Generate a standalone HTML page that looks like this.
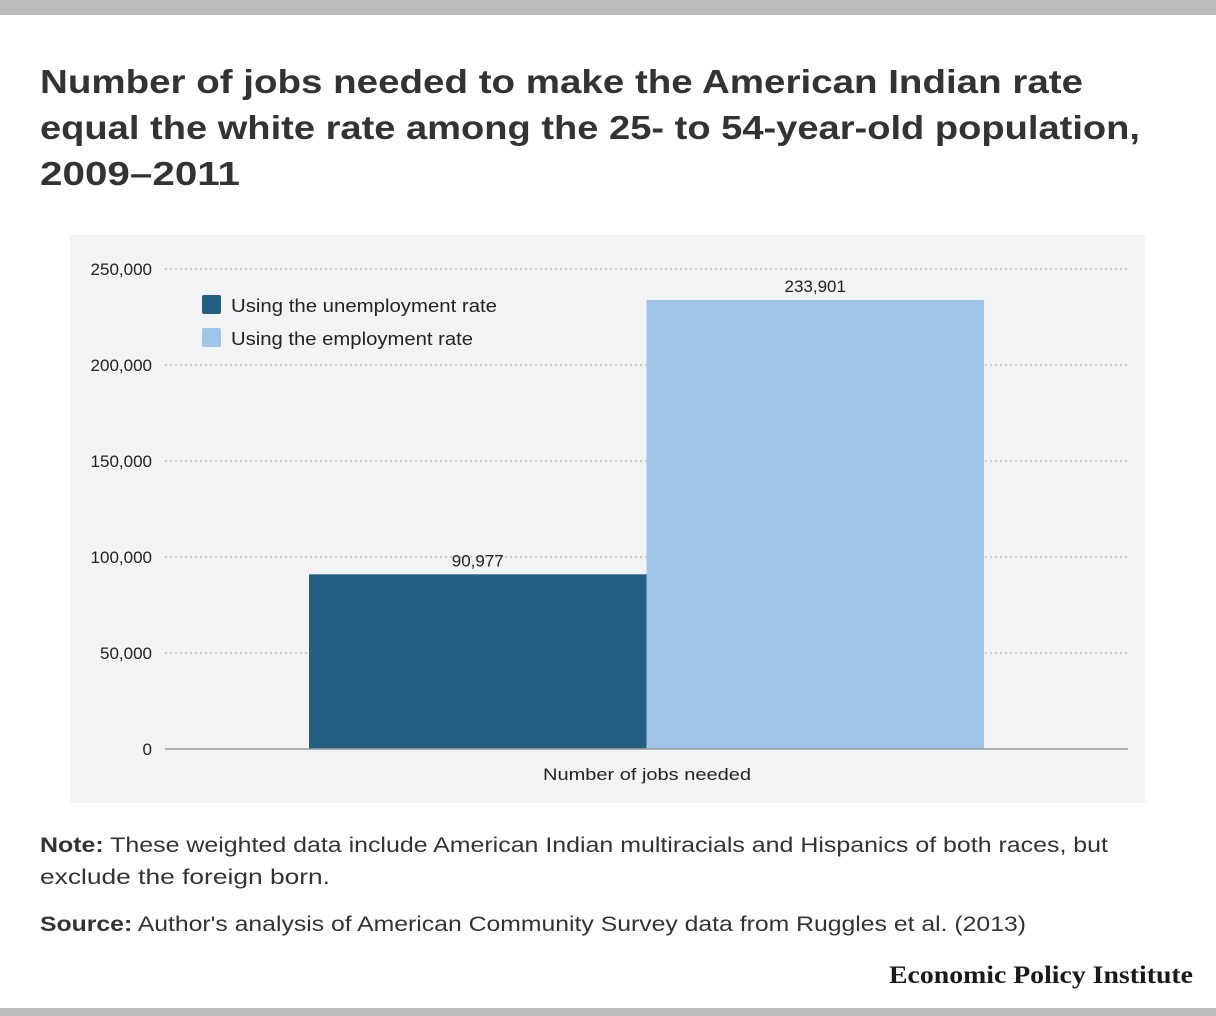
<!DOCTYPE html>
<html><head><meta charset="utf-8"><style>
html,body{margin:0;padding:0;background:#fff}
svg{display:block}
text{font-family:"Liberation Sans",sans-serif}
</style></head><body>
<svg width="1216" height="1016" viewBox="0 0 1216 1016">
<rect x="0" y="0" width="1216" height="15" fill="#bbbbbb"/>
<rect x="0" y="1008" width="1216" height="8" fill="#bbbbbb"/>
<g font-weight="bold" font-size="33" fill="#333">
<text x="40" y="93" textLength="1043" lengthAdjust="spacingAndGlyphs">Number of jobs needed to make the American Indian rate</text>
<text x="40" y="139" textLength="1100" lengthAdjust="spacingAndGlyphs">equal the white rate among the 25- to 54-year-old population,</text>
<text x="40" y="185" textLength="200" lengthAdjust="spacingAndGlyphs">2009–2011</text>
</g>
<rect x="70" y="235" width="1075" height="568" fill="#f2f3f5"/>
<g id="grid"></g>
<g id="yticks" font-size="17" fill="#222" text-anchor="end"></g>
<g id="bars"></g>
<line x1="165" y1="749" x2="1128" y2="749" stroke="#999" stroke-width="1.5"/>
<text x="647" y="780" font-size="17" fill="#222" text-anchor="middle" textLength="208" lengthAdjust="spacingAndGlyphs">Number of jobs needed</text>
<g>
<rect x="202" y="295" width="19" height="19" rx="2" fill="#225f80"/>
<text x="231" y="312" font-size="18" fill="#222" textLength="266" lengthAdjust="spacingAndGlyphs">Using the unemployment rate</text>
<rect x="202" y="328" width="19" height="19" rx="2" fill="#9fc5e8"/>
<text x="231" y="345" font-size="18" fill="#222" textLength="242" lengthAdjust="spacingAndGlyphs">Using the employment rate</text>
</g>
<g font-size="21" fill="#333">
<text x="40" y="852" textLength="1068" lengthAdjust="spacingAndGlyphs"><tspan font-weight="bold">Note:</tspan> These weighted data include American Indian multiracials and Hispanics of both races, but</text>
<text x="40" y="884" textLength="290" lengthAdjust="spacingAndGlyphs">exclude the foreign born.</text>
</g>
<text x="40" y="931" font-size="21" fill="#333" textLength="986" lengthAdjust="spacingAndGlyphs"><tspan font-weight="bold">Source:</tspan> Author's analysis of American Community Survey data from Ruggles et al. (2013)</text>
<text x="1193" y="983" font-size="25" font-weight="bold" fill="#1a1a1a" text-anchor="end" style="font-family:'Liberation Serif',serif" textLength="304" lengthAdjust="spacingAndGlyphs">Economic Policy Institute</text>
</svg>
<script>
const tickValues=[0,50000,100000,150000,200000,250000];
const tickLabels=["0","50,000","100,000","150,000","200,000","250,000"];
const categories=["Using the unemployment rate","Using the employment rate"];
const values=[90977,233901];
const valueLabels=["90,977","233,901"];
const NS="http://www.w3.org/2000/svg";
function y(v){return 749-v*(96/50000);}
const xStart=309,barW=337.5;
function x(i){return xStart+i*barW;}
const colors=["#225f80","#9fc5e8"];
const grid=document.getElementById('grid'),yt=document.getElementById('yticks'),bars=document.getElementById('bars');
tickValues.forEach((v,i)=>{
 if(v>0){const l=document.createElementNS(NS,'line');
 
 
 l.setAttribute('x1',165);l.setAttribute('x2',1128);l.setAttribute('y1',y(v));l.setAttribute('y2',y(v));
 l.setAttribute('stroke','#bbb');l.setAttribute('stroke-width','1.5');l.setAttribute('stroke-dasharray','2 3');
 grid.appendChild(l);}
 const t=document.createElementNS(NS,'text');
 
 
 t.setAttribute('x',152);t.setAttribute('y',y(v)+6);t.textContent=tickLabels[i];
 yt.appendChild(t);
});
values.forEach((v,i)=>{
 const r=document.createElementNS(NS,'rect');
 
 
 r.setAttribute('x',x(i));r.setAttribute('width',barW);r.setAttribute('y',y(v));r.setAttribute('height',749-y(v));
 r.setAttribute('fill',colors[i]);
 bars.appendChild(r);
 const t=document.createElementNS(NS,'text');
 
 
 t.setAttribute('x',x(i)+barW/2);t.setAttribute('y',y(v)-8);t.setAttribute('text-anchor','middle');
 t.setAttribute('font-size','17');t.setAttribute('fill','#222');t.textContent=valueLabels[i];
 bars.appendChild(t);
});
</script>
</body></html>
